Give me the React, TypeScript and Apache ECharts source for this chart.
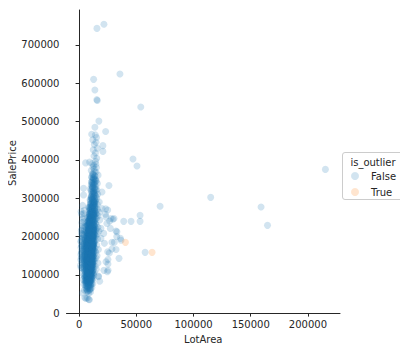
import React, { useEffect, useRef } from "react";
import * as echarts from "echarts";

// [LotArea, SalePrice] pairs, grouped by price band
const under100k: [number, number][] = [
  [9000,34900],[8500,35311],[6000,37900],[7200,39300],[5000,40000],[8400,52000],[3000,52500],[10000,55000],[6600,55993],[7500,58500],
  [4500,60000],[9800,61000],[6900,62383],[8000,64500],[11200,66500],[5700,67000],[7800,68400],[9500,68500],[6300,72500],[8800,73000],
  [10500,75000],[4200,75500],[7400,76000],[12000,76500],[6000,78000],[9100,79000],[8200,79500],[10800,80000],[5400,80500],[7600,81000],
  [8400,82000],[6500,82500],[9600,83000],[18000,83000],[7300,84000],[10200,84500],[5500,85000],[8700,85500],[11500,86000],[7000,87000],
  [9300,87500],[3500,88000],[6200,88000],[8100,89000],[10700,89500],[7700,90000],[9000,90350],[12300,91000],[6800,91500],[8500,92000],
  [4800,92900],[9900,93000],[7100,93500],[11000,94000],[8300,94750],[6100,95000],[17100,95000],[9400,96000],[16800,96600],[7900,97000],
  [10400,97500],[5800,98000],[8900,98600],[12800,99000],[7500,99500],[9700,100000]
];

const from100kTo150k: [number, number][] = [
  [9600,100500],[7200,101000],[11300,101800],[8400,102000],[6000,102500],[10100,102776],[12500,103000],[7700,103600],[9000,104000],[2900,104900],
  [8700,105000],[10600,105500],[6600,106000],[13300,106500],[8100,107000],[9400,107400],[7400,108000],[24700,108000],[11700,108500],[5200,109000],
  [8900,109500],[10300,110000],[7000,110500],[9800,111000],[21700,111500],[25300,112000],[12100,112000],[6300,112500],[8600,113000],[10000,113500],
  [7900,114000],[15000,114500],[9200,115000],[4000,115000],[11000,115500],[8000,116000],[6900,116500],[9700,117000],[12800,117500],[7600,118000],
  [10500,118000],[8300,118500],[1680,119000],[9100,119500],[11400,120000],[6500,120500],[8800,121000],[10200,121500],[7300,122000],[14000,122500],
  [9500,123000],[5600,123600],[8500,124000],[11900,124500],[7800,125000],[10700,125000],[9000,125500],[6200,126000],[12300,126500],[8200,127000],
  [9900,127500],[3200,128000],[7500,128000],[25200,128000],[10400,128500],[8700,129000],[11100,129500],[6800,129900],[9300,130000],[16500,130500],
  [7100,131000],[10000,131500],[8400,132000],[12000,132500],[5900,133000],[9600,133000],[7700,133500],[10900,134000],[23500,134000],[8600,134500],
  [13500,135000],[6700,135500],[9200,135750],[11500,136000],[8000,136500],[4700,137000],[10300,137500],[7400,138000],[9000,138500],[12700,138900],
  [8300,139000],[6400,139400],[10600,139500],[25200,140000],[9700,140000],[7800,140500],[2500,141000],[11200,141500],[8800,142000],[10100,142500],
  [34900,142800],[7000,143000],[9400,143500],[14800,143900],[8100,144000],[6100,144500],[11800,145000],[9900,145000],[7600,145500],[10700,146000],
  [3800,146500],[8500,147000],[12400,147500],[9100,148000],[6900,148500],[10400,149000],[8200,149350],[15700,149500],[7300,150000],[9600,150000]
];

const from150kTo200k: [number, number][] = [
  [11000,150500],[8700,151000],[6600,151500],[10000,152000],[13000,152500],[7900,153000],[9300,153500],[5300,154000],[11600,154500],[8400,155000],
  [10500,155000],[7100,155500],[9800,156000],[12200,156500],[1900,157000],[26400,157000],[8900,157500],[10200,157900],[6800,158000],[9200,158500],
  [57700,158500],[14500,159000],[7600,159500],[11300,159500],[8100,160000],[25000,160000],[9700,160500],[4400,161000],[10800,161500],[7300,162000],
  [12900,162500],[8600,163000],[9500,163500],[6300,164000],[11100,164500],[8000,165000],[10300,165500],[16900,166000],[32300,166000],[7700,166500],
  [9100,167000],[28700,167000],[3000,167500],[12000,168000],[8800,168500],[10700,169000],[6900,169500],[9400,170000],[13800,170000],[7500,170500],
  [11500,171000],[8300,171500],[10000,172000],[5800,172500],[9000,173000],[12600,173500],[7900,174000],[10600,174500],[8500,175000],[2200,175500],
  [9800,175500],[11800,176000],[7200,176500],[15400,177000],[9300,177500],[8200,178000],[10900,178500],[6400,179000],[12300,179500],[8700,179900],
  [9600,180000],[4900,180500],[11200,181000],[7800,181500],[10100,182000],[22100,182000],[13200,182500],[8400,183000],[9700,183500],[6700,184000],
  [30800,184600],[11700,184500],[9100,185000],[28700,185000],[7400,185500],[10400,186000],[1500,186500],[8600,187000],[12700,187500],[9900,188000],
  [7000,188500],[11000,189000],[14100,189500],[8300,190000],[36600,190000],[10600,190500],[5500,191000],[9300,191500],[12100,192000],[7700,192500],
  [10200,193000],[16200,193500],[8800,194000],[19100,195000],[36100,195000],[11400,195000],[3600,195500],[9500,196000],[7300,196500],[13400,197000],
  [10800,197500],[8100,198000],[9000,198500],[12500,199000],[6600,199500],[32900,200000],[10300,200000]
];

const from200kTo300k: [number, number][] = [
  [11800,200500],[8500,201000],[14600,201500],[9700,202000],[7200,202500],[12200,203000],[10500,203500],[4100,204000],[13300,204500],[9200,205000],
  [11000,205500],[2700,206000],[15800,206500],[8700,207000],[10800,207500],[12700,208000],[21500,208000],[9900,208500],[6400,209000],[11600,210000],
  [13900,210500],[9400,211000],[10200,212000],[33100,212000],[7800,212500],[12000,213000],[17300,213500],[32200,214000],[11100,214000],[9100,215000],
  [1900,215500],[13000,216000],[10600,217000],[8200,218000],[14900,218500],[11900,219500],[9600,220000],[27300,221000],[19100,221000],[12400,221500],
  [3300,222000],[10900,223000],[16400,224000],[8900,225000],[11400,226000],[164660,228950],[13600,227000],[10000,228000],[7000,229000],[12600,230000],
  [15100,231000],[9800,232000],[11300,233000],[24300,234000],[14200,235000],[2400,236000],[10400,237000],[12900,238000],[39000,239400],[45400,239400],
  [53300,239400],[26700,240000],[8600,240500],[13700,241000],[11700,242000],[18100,243000],[9400,244000],[29600,245000],[12300,246000],[27900,247000],
  [30500,247000],[15500,248000],[10700,249000],[3900,250000],[11900,250500],[14000,251000],[23500,251000],[9300,252000],[12800,253000],[16700,254000],
  [53300,255000],[10500,256000],[13400,257000],[23000,257700],[2100,258000],[11200,259000],[15200,260000],[9800,261000],[12500,262000],[17800,263000],
  [10900,264000],[1700,265000],[14400,266000],[11600,267000],[13100,268000],[25000,269000],[9500,270000],[16000,271000],[23200,272000],[20000,273000],
  [12100,274000],[10300,275000],[14700,276000],[159000,277000],[11400,278000],[70800,279000],[13800,280000],[3100,281000],[12400,282000],[15900,284000],
  [10000,285000],[13000,287000],[11700,289000],[17600,290000],[12900,292000],[14300,294000],[9600,295000],[11300,297000],[15400,299000],[13500,300000]
];

const over300k: [number, number][] = [
  [115000,302000],[12000,302500],[14900,304000],[10800,306000],[13200,307000],[3900,308000],[16300,310000],[11500,312000],[14000,314000],[20000,316000],
  [12600,318000],[10500,320000],[15500,322000],[13000,325000],[3900,325600],[11800,328000],[14600,330000],[26100,333000],[12300,335000],[16000,338000],
  [13600,340000],[10900,342000],[15000,345000],[12500,348000],[14200,350000],[11200,354000],[13800,358000],[16600,360000],[12000,364000],[14700,368000],
  [10600,372000],[215245,375000],[13200,376000],[15200,380000],[50600,384000],[12800,386000],[11500,390000],[5700,392000],[9200,394000],[14400,396000],
  [47100,402000],[15400,404000],[13000,410000],[14300,418000],[20800,422000],[12400,426000],[15900,430000],[20800,437000],[13300,440000],[14800,446000],
  [12000,452000],[15200,458000],[14200,465000],[11000,466500],[23200,474000],[13800,485000],[17300,501000],[53900,538000],[15900,555000],[15500,557000],
  [13800,582000],[12700,610000],[35700,624000],[15600,743000],[21700,754000]
];

// small-lot townhouses along the left edge of the cloud
const smallLots: [number, number][] = [
  [1300,125000],[1490,139000],[1620,152000],[1680,171000],[1830,187000],[1920,145000],[2010,160000],[2160,195000],[2220,133000],[2280,208000],
  [2430,176000],[2520,118000],[2610,218000],[2730,149000],[2820,165000],[2940,190000],[3010,228000],[3090,137000],[3230,205000],[3310,155000],
  [3420,246000],[3500,179000],[3620,121000],[3680,199000],[3840,163000],[3910,238000],[4020,142000],[4110,182000],[4230,260000],[4300,98000],
  [4410,215000],[4520,130000],[4590,173000],[4700,268000],[4820,110000],[4920,153000],[5010,192000],[5100,85000],[5230,226000],[5310,145000]
];

// dense core of the cloud
const core: [number, number][] = [
  [9250,121500],[7150,133200],[10870,146300],[8040,158900],[11620,167400],[6750,178200],[9480,189600],[12340,203700],[8610,214500],[10290,226800],
  [7580,139800],[9930,152600],[11180,164100],[8320,171900],[6480,184300],[10460,197700],[9110,208900],[12820,219300],[7860,231600],[10030,244800],
  [8780,113700],[11390,126400],[7340,137100],[9670,148800],[10910,159700],[6230,169200],[8470,181800],[11730,193400],[9360,204600],[13150,216200],
  [7920,127800],[10580,141200],[8160,155300],[9840,163900],[12060,174600],[7430,187100],[10740,198900],[8930,210200],[11460,222700],[9520,236400],
  [6870,105600],[8650,118300],[10220,131700],[7690,144600],[9190,156800],[11860,168700],[8270,179500],[10360,191100],[12580,202300],[9740,213800],
  [8380,225100],[10640,237900],[7260,249600],[11270,261300],[9020,273500],[12930,285700],[10110,297100],[8570,258200],[11940,270900],[13480,283100],
  [7010,96800],[9410,109200],[11080,122900],[8500,134600],[10690,145800],[7730,157200],[9570,166300],[12250,176800],[8140,187900],[10820,199300],
  [9290,116100],[7470,128700],[11530,138300],[8840,149600],[10180,161200],[6560,173300],[9790,183600],[11350,194900],[8680,206100],[12440,217600],
  [10400,228700],[7980,240300],[9630,252700],[11690,264100],[8210,276300],[13260,288900],[10900,300500],[12720,312800],[9880,324600],[11060,336900],
  [6930,119900],[8720,131300],[10330,142900],[7550,154100],[9060,165700],[11790,176200],[8390,186800],[10510,197400],[12110,208600],[9450,219900],
  [7820,101300],[9970,112800],[11210,124100],[8060,136700],[10780,147300],[7190,158600],[9330,169900],[12470,180300],[8910,192600],[10590,203100],
  [11840,214400],[9160,225600],[7640,236800],[10250,248100],[12590,259400],[8450,240600],[9730,230500],[11440,220200],[10050,185400],[8590,176100],
  [6380,142300],[8950,153700],[10470,164800],[7370,175700],[9590,186200],[11980,196700],[8230,207400],[10710,218500],[12980,229300],[9040,240700],
  [7710,123600],[9850,134900],[11150,146100],[8330,157600],[10560,168900],[6820,179900],[9220,190800],[11560,201900],[8760,212800],[13620,224100],
  [10120,114400],[8040,126100],[9510,137600],[11330,148900],[7280,160400],[10880,171600],[8620,182700],[9960,193600],[12190,204800],[7950,215900],
  [9140,103800],[11020,116900],[7610,129400],[9380,140700],[10650,151900],[8090,162700],[12370,173900],[9700,185100],[11240,196300],[8430,207300],
  [7090,138400],[9460,149200],[10980,160100],[8520,171200],[11620,182300],[7840,193100],[10190,204300],[9010,155700],[10730,166900],[8250,128900],
  [9890,120300],[11410,132100],[7530,143700],[10020,155000],[8810,166200],[12660,177500],[9250,188700],[10830,199800],[7720,211200],[11090,222400],
  [8870,233900],[10460,245300],[12210,256600],[9580,267900],[11520,279200],[13070,290400],[10260,262200],[8700,251800],[11770,242100],[9420,198200],
  [6650,161800],[8180,172800],[10370,183900],[9080,194900],[11660,175400],[7460,186500],[9820,147700],[10920,139100],[8480,144800],[12020,155900],
  [7030,89500],[9310,94200],[10810,98700],[8560,103500],[7380,110900],[10490,107300],[12150,133800],[8990,161000],[9650,172400],[10150,177900]
];

// further points of the dark core
const coreMore: [number, number][] = [
  [8120,84600],[9640,91200],[6730,97400],[10960,102300],[7940,106900],[9170,111400],[5940,115700],[11870,119800],[8460,123200],[10310,127600],
  [6290,131900],[9040,135300],[11640,139700],[7810,143100],[10090,147400],[5460,151800],[8740,155900],[12520,159300],[9390,163700],[7060,167100],
  [10660,170400],[8350,174800],[11910,178100],[6140,182500],[9530,185900],[12780,189300],[7590,193700],[10240,197100],[8690,201500],[11300,205800],
  [6970,209200],[9780,213600],[12650,217900],[8060,221300],[10920,225700],[7430,229100],[9310,233400],[11580,237800],[13410,241200],[8830,245500],
  [10540,249900],[12040,254300],[9160,258600],[11410,263000],[13750,267300],[10210,271700],[8940,276000],[12170,280400],[9860,284700],[11700,289100],
  [5870,126700],[4960,134100],[6040,148300],[5620,163600],[6190,197900],[5530,211400],[6320,224800],[5750,187700],[4880,171500],[6450,118600],
  [7270,141100],[8910,146200],[10430,151400],[7670,156500],[9480,161600],[11120,166800],[8150,171900],[9870,177000],[7020,182200],[10780,187300],
  [8520,192400],[12330,197600],[9210,202700],[7400,207800],[11000,213000],[8780,218100],[10080,223200],[12860,228400],[9660,233500],[7890,238600],
  [9350,100900],[7560,105100],[11440,109300],[8230,113500],[10010,117700],[6660,121900],[9090,126100],[11850,130300],[7800,134500],[10370,138700],
  [8580,142900],[12210,147100],[9720,151300],[6840,155500],[10840,159700],[8290,163900],[11490,168100],[7140,172300],[9950,176500],[12440,180700],
  [8600,184900],[10630,189100],[7250,193300],[11960,197500],[9290,201700],[10520,205900],[8040,210100],[12570,214300],[9590,218500],[11250,222700],
  [7760,226900],[10150,231100],[8460,235300],[12040,239500],[9930,243700],[11380,247900],[10700,252100],[13250,256300],[9480,260500],[11810,264700],
  [7050,116300],[8850,120100],[10580,123900],[6420,127700],[9390,131500],[11230,135300],[7920,139100],[10250,142900],[8630,146700],[12080,150500],
  [9120,154300],[7480,158100],[10920,161900],[8340,165700],[11720,169500],[6590,173300],[9730,177100],[11050,180900],[8110,184700],[10420,188500],
  [9680,192300],[7340,196100],[12140,199900],[8900,203700],[10640,207500],[9270,211300],[11560,215100],[8320,218900],[13040,222700],[10030,226500],
  [11780,230300],[9050,234100],[10960,237900],[12720,241700],[8630,245500],[10350,249300],[11960,253100],[9240,256900],[12890,260700],[10810,264500],
  [7410,87200],[8690,92600],[6380,95700],[9960,99800],[5250,101700],[11560,104200],[8220,108600],[6760,112200],[10030,114900],[4640,117400],
  [8560,121100],[7070,124700],[10730,129300],[9640,131800],[5190,135600],[8380,138100],[11310,141600],[6930,145300],[9520,149900],[7750,152400],
  [10620,156300],[9040,160600],[12130,164300],[6710,167600],[8810,170800],[10280,174200],[7660,177700],[11380,181400],[9150,184300],[12670,186900],
  [8070,190200],[10900,192800],[9370,195600],[7530,199200],[11830,202100],[8700,204900],[10110,208400],[12390,211700],[9570,215200],[7870,219600],
  [11170,223800],[9790,227400],[8280,231800],[12420,234600],[10570,238200],[11900,244300],[9320,247600],[13160,251200],[10390,255800],[12230,259100],
  [11050,268400],[13580,272600],[9900,277900],[12460,281500],[10850,286300],[14120,292700],[11950,296400],[10470,303800],[13360,309600],[12260,316700],
  [14050,323400],[11570,329800],[12880,336100],[10990,341500],[13990,347200],[12540,352800],[11720,361500],[13410,369700],[12080,381200],[14600,388400]
];

// lower, middle and upper parts of the dark column, filled in further
const lowerColumn: [number, number][] = [
  [7620,56800],[8950,59400],[6410,62700],[9870,65100],[7140,67800],[8330,70300],[5680,72900],[10420,74600],[7860,77200],[9210,79800],
  [6570,81400],[8460,83700],[10180,85900],[7380,87600],[9540,89200],[5920,90800],[8010,92400],[11070,93800],[6950,95300],[9130,96900],
  [7790,98100],[8620,99400],[10560,86700],[6240,84300],[9380,81900],[7450,79300],[8820,76100],[10060,71800],[6860,69400],[9660,63800],
  [8240,97600],[7020,99100],[9760,95100],[5410,93600],[10950,91700],[8580,88300],[7250,85100],[9450,82600],[6180,78900],[8070,74200]
];

const middleColumn: [number, number][] = [
  [9410,101900],[7830,104400],[10750,106800],[8390,109700],[6470,112600],[9620,115300],[11180,118900],[8010,121700],[9870,124900],[7280,127300],
  [10560,130700],[8770,133900],[6880,136200],[9280,139900],[11340,142100],[8150,145600],[10040,148300],[7590,150900],[9190,153800],[11610,156100],
  [8440,158700],[6790,161300],[10330,163800],[8900,166600],[7350,169200],[9710,171700],[11440,174100],[8060,176900],[10180,179300],[6950,181700],
  [9360,184100],[11750,186600],[8270,188900],[10470,191300],[7680,193900],[9090,196500],[11280,198700],[8550,201200],[10690,203800],[7210,206300],
  [9830,208700],[12060,211100],[8390,213600],[10280,216100],[7970,218700],[9480,221200],[11630,223900],[8720,226300],[10840,228800],[9260,231300],
  [7410,108200],[9030,111700],[10290,114900],[8560,117600],[6610,120200],[9940,123100],[11480,126700],[7860,129800],[10120,132400],[8860,135700],
  [7000,138700],[10760,141400],[9340,144400],[8080,147200],[11930,149700],[9590,152800],[7520,155800],[10530,158300],[8650,161900],[12270,164900],
  [9010,167800],[7760,170600],[10880,173500],[9500,176300],[8170,179100],[11210,182000],[9790,184800],[7090,187600],[10370,190500],[8990,193200],
  [12010,195900],[9640,198600],[8130,201600],[10930,204500],[9420,207200],[7630,210000],[11480,212700],[10020,215400],[8810,218200],[12460,220900],
  [9170,223600],[10660,226200],[8450,229000],[11320,231700],[9730,234400],[12690,237100],[10310,239900],[8960,242600],[11640,245300],[9980,248000],
  [5930,141900],[5330,158800],[6130,176400],[5690,193800],[6260,215600],[4730,124400],[5860,107900],[4420,149300],[5140,168400],[6080,232900],
  [13840,203300],[14410,214800],[13620,187600],[14180,231900],[13050,178300],[14730,246700],[13930,161400],[13300,142600],[14550,259200],[13870,275200]
];

const upperColumn: [number, number][] = [
  [10440,250700],[12590,253600],[9680,256400],[11870,259100],[10870,262100],[13330,264900],[9430,267600],[12150,270400],[11180,273200],[13690,276100],
  [10560,278800],[12430,281700],[11090,284500],[14010,287300],[9950,290100],[12780,292900],[11460,295800],[13210,298600],[10660,301400],[12560,304300],
  [14270,307100],[11740,309900],[13060,312800],[10880,315600],[12950,318500],[14480,321300],[11370,324100],[13550,327000],[12170,329800],[10750,332700],
  [13780,335500],[11910,338300],[12820,341200],[14610,344000],[11450,346900],[13170,349700],[12390,352500],[10970,355400],[13850,358200],[12600,361000]
];

const outlierPoints: [number, number][] = [[40500,184600],[63800,158500]];

const xTicks = [0, 50000, 100000, 150000, 200000];
const yTicks = [0, 100000, 200000, 300000, 400000, 500000, 600000, 700000];

const BLUE = "rgba(31,119,180,0.25)";
const ORANGE = "rgba(255,127,14,0.25)";
const TXT = "#262626";
const FONT = "DejaVu Sans";

export default function App() {
  const ref = useRef<HTMLDivElement>(null);
  useEffect(() => {
    if (!ref.current) return;
    const chart = echarts.init(ref.current, undefined, { renderer: "svg" });
    const normal = [
      ...under100k, ...from100kTo150k, ...from150kTo200k, ...from200kTo300k, ...over300k,
      ...smallLots, ...core, ...coreMore, ...lowerColumn, ...middleColumn, ...upperColumn,
    ];
    const plain = (v: number) => String(v);
    chart.setOption({
      animation: false,
      grid: { left: 66.5, right: 68, top: 10, bottom: 38.5, containLabel: false, outerBoundsMode: "none" },
      xAxis: {
        type: "value",
        min: -11000,
        max: 228000,
        name: "LotArea",
        nameLocation: "middle",
        nameGap: 16,
        nameTextStyle: { color: TXT, fontFamily: FONT, fontSize: 10 },
        axisLine: { show: true, lineStyle: { color: TXT, width: 1 } },
        axisTick: { show: true, length: 3.5, customValues: xTicks, lineStyle: { color: TXT } },
        axisLabel: { customValues: xTicks, formatter: plain, color: TXT, fontFamily: FONT, fontSize: 10, margin: 6 },
        splitLine: { show: false },
      },
      yAxis: {
        type: "value",
        min: -1100,
        max: 791000,
        axisLine: { show: true, lineStyle: { color: TXT, width: 1 } },
        axisTick: { show: true, length: 3.5, customValues: yTicks, lineStyle: { color: TXT } },
        axisLabel: { customValues: yTicks, formatter: plain, color: TXT, fontFamily: FONT, fontSize: 10, margin: 7 },
        splitLine: { show: false },
      },
      legend: {
        orient: "vertical",
        left: 346,
        top: 166,
        itemWidth: 22,
        itemHeight: 8,
        itemGap: 6,
        icon: "circle",
        textStyle: { color: TXT, fontFamily: FONT, fontSize: 10, padding: [0, 0, 0, 0] },
        data: ["False", "True"],
      },
      graphic: [
        {
          type: "text",
          x: 12,
          y: 163,
          rotation: Math.PI / 2,
          style: { text: "SalePrice", fill: TXT, font: `10px '${FONT}'`, align: "center", verticalAlign: "middle" },
        },
        {
          type: "rect",
          shape: { x: 342.5, y: 152.5, width: 61, height: 47, r: 2.5 },
          style: { fill: "rgba(255,255,255,0.8)", stroke: "#cccccc", lineWidth: 1 },
          z: 0,
        },
        {
          type: "text",
          x: 373,
          y: 162,
          style: { text: "is_outlier", fill: TXT, font: `10px '${FONT}'`, align: "center", verticalAlign: "middle" },
        },
      ],
      series: [
        {
          name: "False",
          type: "scatter",
          data: normal,
          symbol: "circle",
          symbolSize: 7,
          itemStyle: { color: BLUE },
        },
        {
          name: "True",
          type: "scatter",
          data: outlierPoints,
          symbol: "circle",
          symbolSize: 7,
          itemStyle: { color: ORANGE },
        },
      ],
    });
    return () => chart.dispose();
  }, []);
  return <div ref={ref} style={{ width: 408, height: 352, marginLeft: -8, marginTop: -8 }} />;
}
